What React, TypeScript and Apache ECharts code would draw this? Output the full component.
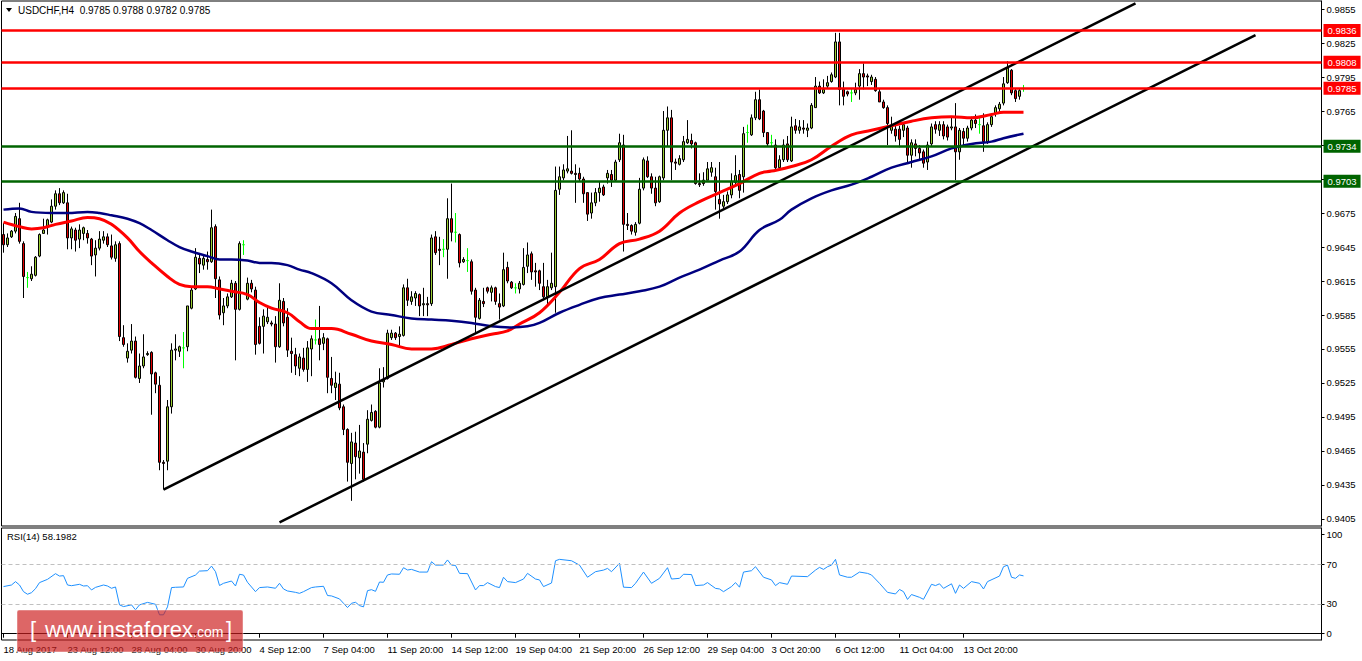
import React, { useEffect, useRef } from "react";
import * as echarts from "echarts";

const FONT = "'Liberation Sans', Arial, sans-serif";

const chartTitle = "USDCHF,H4  0.9785 0.9788 0.9782 0.9785";
const rsiTitle = "RSI(14) 58.1982";

const xLabels = [
  "18 Aug 2017", "23 Aug 12:00", "28 Aug 04:00", "30 Aug 20:00", "4 Sep 12:00",
  "7 Sep 04:00", "11 Sep 20:00", "14 Sep 12:00", "19 Sep 04:00", "21 Sep 20:00",
  "26 Sep 12:00", "29 Sep 04:00", "3 Oct 20:00", "6 Oct 12:00", "11 Oct 04:00",
  "13 Oct 20:00",
];
const LABEL_STEP = 16;
const SLOTS = 330;

const opens = [
  0.9656,0.9647,0.9654,0.9659,0.9670,0.9648,0.9618,0.9617,0.9620,0.9637,
  0.9657,0.9663,0.9667,0.9681,0.9692,0.9684,0.9684,0.9653,0.9660,0.9652,
  0.9657,0.9657,0.9652,0.9638,0.9644,0.9651,0.9654,0.9646,0.9635,0.9648,
  0.9565,0.9547,0.9554,0.9562,0.9529,0.9540,0.9550,0.9552,0.9534,0.9523,
  0.9455,0.9456,0.9504,0.9554,0.9553,0.9556,0.9557,0.9591,0.9608,0.9635,
  0.9629,0.9634,0.9632,0.9663,0.9616,0.9587,0.9593,0.9601,0.9613,0.9590,
  0.9647,0.9599,0.9613,0.9607,0.9575,0.9575,0.9579,0.9578,0.9577,0.9557,
  0.9597,0.9583,0.9553,0.9550,0.9538,0.9547,0.9537,0.9555,0.9563,0.9564,
  0.9560,0.9564,0.9529,0.9521,0.9524,0.9504,0.9484,0.9454,0.9472,0.9459,
  0.9464,0.9471,0.9492,0.9500,0.9486,0.9526,0.9529,0.9565,0.9569,0.9566,
  0.9567,0.9609,0.9597,0.9600,0.9603,0.9594,0.9595,0.9595,0.9654,0.9643,
  0.9643,0.9643,0.9670,0.9658,0.9656,0.9632,0.9633,0.9632,0.9607,0.9582,
  0.9597,0.9609,0.9605,0.9609,0.9595,0.9593,0.9627,0.9614,0.9609,0.9608,
  0.9612,0.9628,0.9639,0.9624,0.9624,0.9610,0.9601,0.9609,0.9610,0.9696,
  0.9706,0.9712,0.9712,0.9710,0.9710,0.9705,0.9693,0.9675,0.9684,0.9693,
  0.9698,0.9706,0.9709,0.9704,0.9722,0.9735,0.9665,0.9664,0.9658,0.9666,
  0.9697,0.9721,0.9707,0.9697,0.9685,0.9706,0.9748,0.9759,0.9720,0.9718,
  0.9722,0.9737,0.9739,0.9737,0.9701,0.9704,0.9704,0.9711,0.9707,0.9687,
  0.9681,0.9685,0.9691,0.9702,0.9709,0.9707,0.9746,0.9744,0.9759,0.9775,
  0.9765,0.9746,0.9737,0.9735,0.9715,0.9722,0.9736,0.9721,0.9752,0.9748,
  0.9750,0.9748,0.9750,0.9768,0.9787,0.9781,0.9787,0.9791,0.9795,0.9826,
  0.9784,0.9782,0.9781,0.9781,0.9787,0.9798,0.9796,0.9791,0.9793,0.9782,
  0.9773,0.9768,0.9748,0.9749,0.9749,0.9748,0.9750,0.9726,0.9736,0.9732,
  0.9729,0.9720,0.9736,0.9753,0.9748,0.9753,0.9751,0.9750,0.9751,0.9729,
  0.9747,0.9741,0.9750,0.9757,0.9753,0.9752,0.9738,0.9753,0.9763,0.9767,
  0.9772,0.9790,0.9801,0.9783,0.9778,0.9785,
];

const closes = [
  0.9647,0.9653,0.9659,0.9672,0.9650,0.9619,0.9618,0.9621,0.9636,0.9656,
  0.9660,0.9669,0.9681,0.9692,0.9684,0.9693,0.9653,0.9661,0.9651,0.9660,
  0.9662,0.9653,0.9637,0.9644,0.9652,0.9654,0.9647,0.9636,0.9647,0.9566,
  0.9559,0.9553,0.9562,0.9530,0.9540,0.9548,0.9551,0.9533,0.9524,0.9455,
  0.9454,0.9504,0.9554,0.9555,0.9557,0.9556,0.9593,0.9607,0.9636,0.9630,
  0.9635,0.9632,0.9662,0.9617,0.9585,0.9593,0.9601,0.9613,0.9590,0.9648,
  0.9647,0.9613,0.9608,0.9559,0.9560,0.9584,0.9583,0.9577,0.9557,0.9598,
  0.9578,0.9554,0.9551,0.9540,0.9548,0.9537,0.9556,0.9564,0.9563,0.9559,
  0.9565,0.9530,0.9523,0.9525,0.9503,0.9484,0.9455,0.9473,0.9460,0.9465,
  0.9440,0.9493,0.9499,0.9486,0.9525,0.9528,0.9569,0.9569,0.9565,0.9568,
  0.9609,0.9598,0.9601,0.9604,0.9593,0.9595,0.9594,0.9653,0.9640,0.9642,
  0.9643,0.9670,0.9658,0.9658,0.9631,0.9634,0.9633,0.9606,0.9583,0.9598,
  0.9595,0.9606,0.9609,0.9597,0.9592,0.9625,0.9615,0.9609,0.9609,0.9613,
  0.9627,0.9638,0.9623,0.9623,0.9613,0.9601,0.9610,0.9613,0.9695,0.9707,
  0.9713,0.9714,0.9710,0.9709,0.9705,0.9692,0.9674,0.9684,0.9693,0.9697,
  0.9691,0.9710,0.9704,0.9720,0.9737,0.9665,0.9664,0.9659,0.9665,0.9696,
  0.9722,0.9707,0.9697,0.9684,0.9707,0.9748,0.9759,0.9720,0.9719,0.9723,
  0.9738,0.9740,0.9736,0.9701,0.9700,0.9701,0.9714,0.9715,0.9694,0.9683,
  0.9685,0.9691,0.9703,0.9708,0.9695,0.9745,0.9746,0.9759,0.9775,0.9758,
  0.9746,0.9736,0.9737,0.9715,0.9722,0.9735,0.9722,0.9751,0.9748,0.9751,
  0.9749,0.9750,0.9770,0.9787,0.9781,0.9784,0.9790,0.9797,0.9826,0.9784,
  0.9778,0.9780,0.9781,0.9784,0.9798,0.9795,0.9795,0.9795,0.9783,0.9773,
  0.9768,0.9754,0.9752,0.9743,0.9740,0.9753,0.9726,0.9737,0.9732,0.9728,
  0.9719,0.9735,0.9751,0.9749,0.9753,0.9743,0.9742,0.9751,0.9729,0.9748,
  0.9741,0.9750,0.9757,0.9754,0.9753,0.9738,0.9753,0.9760,0.9768,0.9771,
  0.9789,0.9803,0.9781,0.9776,0.9783,0.9785,
];

const lows = [
  0.9640,0.9645,0.9653,0.9657,0.9648,0.9600,0.9609,0.9615,0.9619,0.9636,
  0.9657,0.9656,0.9666,0.9678,0.9682,0.9683,0.9643,0.9643,0.9641,0.9644,
  0.9651,0.9648,0.9629,0.9619,0.9642,0.9648,0.9645,0.9634,0.9632,0.9562,
  0.9557,0.9543,0.9551,0.9529,0.9525,0.9538,0.9549,0.9497,0.9516,0.9448,
  0.9431,0.9448,0.9498,0.9545,0.9548,0.9538,0.9553,0.9590,0.9607,0.9622,
  0.9625,0.9625,0.9631,0.9600,0.9581,0.9576,0.9591,0.9600,0.9545,0.9589,
  0.9638,0.9598,0.9605,0.9550,0.9559,0.9551,0.9577,0.9575,0.9543,0.9556,
  0.9575,0.9548,0.9534,0.9532,0.9531,0.9535,0.9526,0.9531,0.9559,0.9545,
  0.9554,0.9516,0.9516,0.9510,0.9501,0.9479,0.9438,0.9421,0.9440,0.9445,
  0.9438,0.9463,0.9491,0.9485,0.9485,0.9521,0.9528,0.9563,0.9563,0.9556,
  0.9566,0.9593,0.9594,0.9593,0.9584,0.9584,0.9584,0.9593,0.9638,0.9629,
  0.9636,0.9617,0.9650,0.9649,0.9627,0.9631,0.9623,0.9603,0.9569,0.9581,
  0.9592,0.9604,0.9597,0.9594,0.9581,0.9592,0.9613,0.9608,0.9604,0.9604,
  0.9611,0.9622,0.9616,0.9610,0.9607,0.9598,0.9593,0.9607,0.9587,0.9691,
  0.9704,0.9710,0.9709,0.9684,0.9703,0.9684,0.9668,0.9670,0.9681,0.9685,
  0.9690,0.9701,0.9698,0.9703,0.9720,0.9641,0.9660,0.9656,0.9655,0.9665,
  0.9695,0.9706,0.9692,0.9681,0.9684,0.9704,0.9734,0.9704,0.9713,0.9717,
  0.9720,0.9736,0.9732,0.9700,0.9698,0.9699,0.9704,0.9707,0.9678,0.9670,
  0.9678,0.9683,0.9688,0.9700,0.9688,0.9693,0.9737,0.9743,0.9757,0.9757,
  0.9742,0.9734,0.9733,0.9713,0.9713,0.9720,0.9720,0.9720,0.9745,0.9745,
  0.9745,0.9742,0.9749,0.9768,0.9780,0.9780,0.9785,0.9790,0.9794,0.9770,
  0.9770,0.9778,0.9773,0.9779,0.9775,0.9784,0.9787,0.9788,0.9782,0.9773,
  0.9767,0.9735,0.9745,0.9738,0.9733,0.9742,0.9720,0.9715,0.9725,0.9722,
  0.9715,0.9713,0.9734,0.9745,0.9743,0.9740,0.9739,0.9748,0.9704,0.9722,
  0.9735,0.9738,0.9748,0.9750,0.9745,0.9729,0.9736,0.9751,0.9760,0.9764,
  0.9770,0.9789,0.9779,0.9773,0.9775,0.9782,
];

const highs = [
  0.9666,0.9657,0.9660,0.9675,0.9684,0.9650,0.9623,0.9628,0.9637,0.9657,
  0.9670,0.9670,0.9687,0.9695,0.9697,0.9695,0.9692,0.9663,0.9662,0.9665,
  0.9663,0.9660,0.9653,0.9651,0.9659,0.9659,0.9657,0.9656,0.9650,0.9650,
  0.9576,0.9560,0.9577,0.9566,0.9551,0.9568,0.9553,0.9553,0.9535,0.9531,
  0.9457,0.9510,0.9560,0.9568,0.9558,0.9570,0.9593,0.9609,0.9644,0.9638,
  0.9637,0.9641,0.9678,0.9665,0.9619,0.9600,0.9604,0.9616,0.9615,0.9650,
  0.9651,0.9618,0.9616,0.9610,0.9583,0.9590,0.9593,0.9580,0.9584,0.9613,
  0.9600,0.9591,0.9565,0.9556,0.9551,0.9556,0.9562,0.9567,0.9581,0.9593,
  0.9569,0.9565,0.9548,0.9535,0.9534,0.9506,0.9485,0.9481,0.9482,0.9488,
  0.9472,0.9501,0.9506,0.9501,0.9538,0.9539,0.9572,0.9572,0.9570,0.9575,
  0.9612,0.9617,0.9606,0.9606,0.9604,0.9609,0.9601,0.9656,0.9659,0.9654,
  0.9652,0.9688,0.9701,0.9675,0.9657,0.9636,0.9644,0.9634,0.9609,0.9600,
  0.9609,0.9610,0.9611,0.9610,0.9604,0.9640,0.9632,0.9615,0.9613,0.9615,
  0.9644,0.9649,0.9641,0.9631,0.9625,0.9631,0.9616,0.9640,0.9716,0.9716,
  0.9718,0.9743,0.9748,0.9718,0.9715,0.9707,0.9693,0.9693,0.9697,0.9703,
  0.9700,0.9713,0.9713,0.9722,0.9745,0.9744,0.9675,0.9665,0.9667,0.9706,
  0.9724,0.9725,0.9710,0.9707,0.9708,0.9765,0.9769,0.9766,0.9723,0.9726,
  0.9743,0.9757,0.9745,0.9738,0.9710,0.9711,0.9720,0.9720,0.9715,0.9720,
  0.9691,0.9694,0.9710,0.9726,0.9713,0.9751,0.9753,0.9762,0.9782,0.9784,
  0.9766,0.9746,0.9744,0.9740,0.9726,0.9740,0.9743,0.9760,0.9758,0.9757,
  0.9757,0.9754,0.9772,0.9795,0.9791,0.9793,0.9796,0.9799,0.9834,0.9834,
  0.9791,0.9783,0.9785,0.9790,0.9802,0.9807,0.9798,0.9797,0.9795,0.9785,
  0.9775,0.9770,0.9760,0.9753,0.9752,0.9755,0.9752,0.9740,0.9740,0.9735,
  0.9731,0.9738,0.9754,0.9756,0.9756,0.9756,0.9753,0.9760,0.9772,0.9750,
  0.9750,0.9752,0.9760,0.9762,0.9760,0.9763,0.9755,0.9763,0.9770,0.9773,
  0.9795,0.9809,0.9802,0.9785,0.9785,0.9788,
];

// moving averages: [bar index, value]
const redMA = [
  [0,0.9667],[4,0.9663],[7,0.9661],[10,0.9662],[13,0.9665],[17,0.9668],[21,0.9671],[24,0.9670],
  [27,0.9665],[31,0.9653],[34,0.9641],[37,0.9631],[41,0.9619],[44,0.9612],[47,0.9610],[51,0.9610],
  [54,0.9608],[57,0.9606],[61,0.9603],[64,0.9596],[67,0.9591],[71,0.9587],[74,0.9579],[77,0.9573],
  [82,0.9573],[87,0.9568],[92,0.9562],[97,0.9559],[102,0.9555],[107,0.9555],[112,0.9559],[117,0.9564],
  [122,0.9568],[126,0.9571],[129,0.9577],[134,0.9587],[139,0.9605],[144,0.9626],[149,0.9634],[154,0.9648],
  [159,0.9652],[164,0.9659],[169,0.9675],[174,0.9685],[179,0.9693],[184,0.9701],[189,0.9710],[192,0.9712],
  [197,0.9716],[202,0.9722],[207,0.9734],[212,0.9744],[217,0.9748],[222,0.9752],[227,0.9756],[232,0.9759],
  [237,0.9760],[242,0.9759],[247,0.9762],[250,0.9764],[255,0.9764],
];

const blueMA = [
  [0,0.9678],[4,0.9679],[7,0.9676],[12,0.9675],[16,0.9675],[21,0.9676],[24,0.9675],[27,0.9673],
  [31,0.9670],[34,0.9666],[37,0.9660],[41,0.9651],[44,0.9645],[47,0.9641],[51,0.9637],[54,0.9634],
  [57,0.9634],[61,0.9633],[64,0.9631],[67,0.9631],[71,0.9629],[74,0.9625],[77,0.9622],[82,0.9613],
  [87,0.9598],[92,0.9588],[97,0.9585],[102,0.9582],[107,0.9581],[112,0.9580],[117,0.9578],[122,0.9575],
  [127,0.9574],[131,0.9575],[134,0.9578],[139,0.9587],[144,0.9594],[149,0.9600],[154,0.9603],[159,0.9606],
  [164,0.9610],[169,0.9618],[174,0.9625],[179,0.9633],[184,0.9641],[189,0.9660],[194,0.9669],[197,0.9678],
  [202,0.9688],[207,0.9695],[212,0.9700],[217,0.9707],[222,0.9715],[227,0.9720],[232,0.9725],[237,0.9732],
  [242,0.9736],[247,0.9738],[250,0.9741],[255,0.9745],
];

const rsiValues = [
  [0,47.4],[2,49],[3,52.4],[4,49],[5,42.3],[6,39.7],[7,41.3],[8,45.3],[9,51.4],[11,54.7],
  [13,60.4],[14,58],[15,58.4],[16,49],[17,48.3],[19,49.7],[20,48],[21,48.3],[22,44],[23,46.6],
  [25,49],[26,48],[27,45.7],[28,47],[29,29],[30,27.3],[32,29],[33,24],[34,29],[36,31.5],
  [38,29.6],[39,19],[40,19],[41,27],[42,46.4],[43,46.7],[45,47],[46,55.7],[48,59],[49,63],
  [51,63.4],[52,68],[53,62.4],[54,48.5],[55,50.7],[57,53],[58,48],[59,59.8],[60,59],[61,51.7],
  [63,42.3],[64,46.4],[66,47],[68,45.7],[69,50.7],[70,45],[71,43],[73,41.6],[74,40.6],[75,42.3],
  [77,46.4],[78,47],[80,47.7],[81,38.4],[82,38],[84,35],[85,30.6],[86,26.3],[87,30.6],[88,31.6],
  [89,28.3],[90,27],[91,43.3],[92,44.3],[93,42.6],[94,52],[95,51.7],[96,59.1],[97,60.1],[99,59.8],
  [100,66.4],[101,64.1],[102,64.7],[104,62],[106,62],[107,72.4],[108,69],[110,69],[111,74.2],[112,69],
  [113,68.7],[114,60.7],[116,60.4],[118,44],[119,48.4],[120,48.4],[121,51.4],[123,47.4],[124,46.4],[125,56.8],
  [126,52.4],[128,51.4],[130,55],[131,60.7],[133,55],[134,54.1],[135,47.4],[137,51],[138,73.4],[139,74.8],
  [142,73.4],[144,69],[146,56.8],[148,62.4],[150,64],[151,65.7],[152,62.4],[154,70.8],[155,46.8],[157,46.4],
  [158,50.7],[160,62],[162,50.7],[164,55.7],[166,66.4],[167,55],[169,55.7],[170,59.8],[172,59.5],[173,48.4],
  [175,49],[176,51.4],[178,45.6],[179,45],[180,42.3],[182,47.4],[183,51.4],[184,46.8],[185,62],[187,63.4],
  [188,67.4],[190,56.8],[192,54.1],[193,48.4],[194,51.4],[196,49.7],[197,58],[201,57.4],[203,64],[204,66.7],
  [205,64.7],[206,67.4],[207,69],[208,74.8],[209,59.1],[211,56.8],[212,56.8],[214,62],[216,60.7],[217,59.1],
  [219,50.7],[221,41.6],[223,40],[224,44.5],[225,42.3],[226,34.5],[227,39.4],[229,36.6],[230,34.6],[232,49.7],
  [233,48.4],[234,50.2],[235,45.6],[237,50.2],[238,40.6],[239,49],[240,45.6],[242,52.4],[244,50.7],[245,45],
  [246,52.4],[249,58],[250,67.4],[251,69],[252,56.8],[253,55.7],[254,59.1],[255,58.2],
];

const channelUpper = [[40, 0.9431], [283, 0.9860]];
const channelLower = [[69, 0.9402], [313, 0.9832]];

const resistanceLevels = [0.9836, 0.9808, 0.9785];
const supportLevels = [0.9734, 0.9703];

const priceTicks = [
  0.9855, 0.9825, 0.9795, 0.9765, 0.9735, 0.9705, 0.9675, 0.9645,
  0.9615, 0.9585, 0.9555, 0.9525, 0.9495, 0.9465, 0.9435, 0.9405,
];
const rsiTicks = [0, 30, 70, 100];
const rsiLevels = [30, 70];

const PRICE_MIN = 0.93988;
const PRICE_MAX = 0.98621;
const RSI_MIN = -6.34;
const RSI_MAX = 106.34;

const RED = "#ff0000";
const GREEN = "#006400";

function isLabelIdx(i: number) {
  return i % LABEL_STEP === 0 && i / LABEL_STEP < xLabels.length;
}

function buildOption() {
  const cats = Array.from({ length: SLOTS }, (_, i) =>
    isLabelIdx(i) ? xLabels[i / LABEL_STEP] : "#" + i
  );
  const candleData = opens.map((o, i) => {
    const c = closes[i];
    return [o, c, Math.min(lows[i], o, c), Math.max(highs[i], o, c)];
  });
  const axisText = { fontFamily: FONT, fontSize: 9.5, color: "#000" };

  const levelLine = (v: number, col: string) => ({
    yAxis: v,
    lineStyle: { color: col, width: 2.5, type: "solid" },
    label: {
      show: true,
      position: "end",
      distance: 2,
      formatter: v.toFixed(4),
      backgroundColor: col,
      color: "#fff",
      padding: [2, 4, 1, 4],
      fontFamily: FONT,
      fontSize: 9.5,
    },
  });

  return {
    animation: false,
    backgroundColor: "#fff",
    textStyle: { fontFamily: FONT },
    grid: [
      { left: 1.5, top: 1, width: 1320, height: 525, show: true, borderColor: "#000", borderWidth: 1, backgroundColor: "transparent" },
      { left: 1.5, top: 528, width: 1320, height: 112, show: true, borderColor: "#000", borderWidth: 1, backgroundColor: "transparent" },
    ],
    xAxis: [
      {
        type: "category", gridIndex: 0, data: cats, boundaryGap: true,
        axisLine: { show: false }, axisTick: { show: false }, axisLabel: { show: false }, splitLine: { show: false },
      },
      {
        type: "category", gridIndex: 1, data: cats, boundaryGap: true,
        axisLine: { show: true, lineStyle: { color: "#000", width: 1 } },
        axisTick: {
          show: true, alignWithLabel: true, length: 4, inside: false,
          interval: (i: number) => isLabelIdx(i),
          lineStyle: { color: "#000" },
        },
        axisLabel: {
          show: true, interval: (i: number) => isLabelIdx(i),
          align: "left", margin: 4, ...axisText,
        },
        splitLine: { show: false },
      },
    ],
    yAxis: [
      {
        type: "value", gridIndex: 0, position: "right", min: PRICE_MIN, max: PRICE_MAX,
        axisLine: { show: true, lineStyle: { color: "#000" } },
        axisTick: { show: true, customValues: priceTicks, length: 3, inside: false, lineStyle: { color: "#000" } },
        axisLabel: { show: true, customValues: priceTicks, formatter: (v: number) => v.toFixed(4), margin: 5, ...axisText },
        splitLine: { show: false },
      },
      {
        type: "value", gridIndex: 1, position: "right", min: RSI_MIN, max: RSI_MAX,
        axisLine: { show: true, lineStyle: { color: "#000" } },
        axisTick: { show: true, customValues: rsiTicks, length: 3, inside: false, lineStyle: { color: "#000" } },
        axisLabel: { show: true, customValues: rsiTicks, formatter: (v: number) => String(Math.round(v)), margin: 5, ...axisText },
        splitLine: { show: false },
      },
    ],
    series: [
      {
        type: "candlestick", name: "USDCHF", xAxisIndex: 0, yAxisIndex: 0,
        data: candleData, barWidth: 2, z: 2,
        itemStyle: {
          color: "#9acd32", color0: "#e00000",
          borderColor: "#000", borderColor0: "#000", borderColorDoji: "#00ff00",
          borderWidth: 1,
        },
      },
      {
        type: "line", name: "MA fast", xAxisIndex: 0, yAxisIndex: 0, data: redMA,
        showSymbol: false, smooth: 0.4, z: 3,
        lineStyle: { color: RED, width: 3 },
      },
      {
        type: "line", name: "MA slow", xAxisIndex: 0, yAxisIndex: 0, data: blueMA,
        showSymbol: false, smooth: 0.4, z: 3,
        lineStyle: { color: "#000080", width: 2.5 },
      },
      {
        type: "line", name: "channel upper", xAxisIndex: 0, yAxisIndex: 0, data: channelUpper,
        showSymbol: false, z: 4, lineStyle: { color: "#000", width: 2.5 },
      },
      {
        type: "line", name: "channel lower", xAxisIndex: 0, yAxisIndex: 0, data: channelLower,
        showSymbol: false, z: 4, lineStyle: { color: "#000", width: 2.5 },
        markLine: {
          silent: true, symbol: ["none", "none"], z: 5, precision: 4,
          data: [
            ...resistanceLevels.map((v) => levelLine(v, RED)),
            ...supportLevels.map((v) => levelLine(v, GREEN)),
          ],
        },
      },
      {
        type: "line", name: "RSI", xAxisIndex: 1, yAxisIndex: 1, data: rsiValues,
        showSymbol: false, z: 3, lineStyle: { color: "#1e90ff", width: 1 },
        markLine: {
          silent: true, symbol: ["none", "none"], precision: 2,
          label: { show: false },
          lineStyle: { color: "#c0c0c0", width: 1, type: [4, 3] },
          data: rsiLevels.map((v) => ({ yAxis: v })),
        },
      },
    ],
    graphic: [
      {
        type: "polygon", z: 50,
        shape: { points: [[6, 8], [12, 8], [9, 12]] },
        style: { fill: "#000" },
      },
      {
        type: "text", z: 50, x: 18, y: 10.5,
        style: { text: chartTitle, font: `10px ${FONT}`, fill: "#000", verticalAlign: "middle", textVerticalAlign: "middle" },
      },
      {
        type: "text", z: 50, x: 7, y: 536.5,
        style: { text: rsiTitle, font: `9.5px ${FONT}`, fill: "#000", verticalAlign: "middle", textVerticalAlign: "middle" },
      },
      {
        type: "group", z: 100,
        children: [
          {
            type: "rect", z: 100,
            shape: { x: 17, y: 610, width: 226, height: 42, r: 2 },
            style: { fill: "rgba(205,30,30,0.68)", stroke: "rgba(255,255,255,0.45)", lineWidth: 1 },
          },
          {
            type: "text", z: 101, x: 30, y: 629.5,
            style: { text: "[", font: `22px ${FONT}`, fill: "#fff", verticalAlign: "middle", textVerticalAlign: "middle" },
          },
          {
            type: "text", z: 101, x: 45, y: 629.5,
            style: { text: "www.instaforex", font: `22px ${FONT}`, fill: "#fff", verticalAlign: "middle", textVerticalAlign: "middle" },
          },
          {
            type: "text", z: 101, x: 193, y: 632.2,
            style: { text: ".com", font: `14px ${FONT}`, fill: "#fff", verticalAlign: "middle", textVerticalAlign: "middle" },
          },
          {
            type: "text", z: 101, x: 226, y: 629.5,
            style: { text: "]", font: `22px ${FONT}`, fill: "#fff", verticalAlign: "middle", textVerticalAlign: "middle" },
          },
        ],
      },
    ],
  };
}

export default function App() {
  const ref = useRef<HTMLDivElement | null>(null);
  useEffect(() => {
    if (!ref.current) return;
    const chart = echarts.init(ref.current, null, { renderer: "svg" });
    chart.setOption(buildOption() as any);
    return () => chart.dispose();
  }, []);
  return (
    <div
      ref={ref}
      style={{ position: "fixed", left: 0, top: 0, width: 1362, height: 661, background: "#fff" }}
    />
  );
}
